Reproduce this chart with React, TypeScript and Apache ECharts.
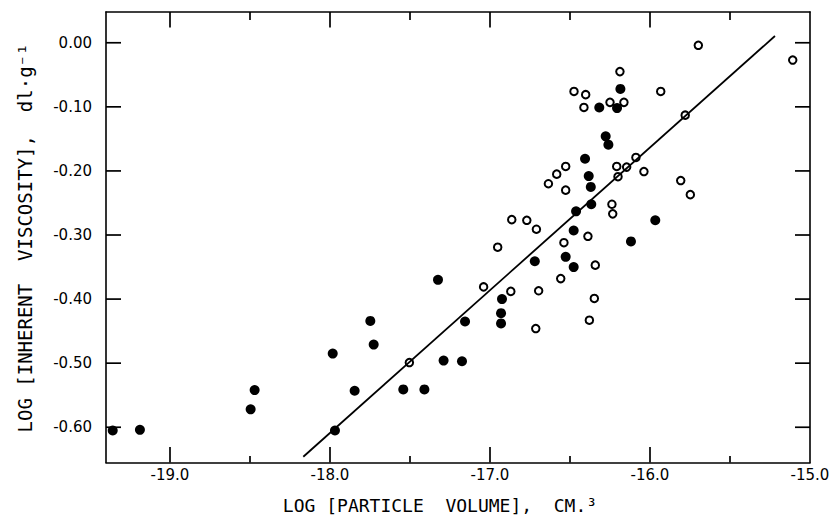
import React, { useEffect, useRef } from "react";
import * as echarts from "echarts";

// Filled circles
const filledX = [
  -19.358, -19.188, -18.496, -18.471, -17.983, -17.969, -17.846, -17.748, -17.727,
  -17.542, -17.41, -17.325, -17.29, -17.175, -17.156, -16.925, -16.931, -16.931,
  -16.72, -16.527, -16.477, -16.477, -16.462, -16.367, -16.119, -15.967, -16.185,
  -16.317, -16.206, -16.277, -16.26, -16.406, -16.383, -16.37,
];
const filledY = [
  -0.605, -0.604, -0.572, -0.542, -0.485, -0.605, -0.543, -0.434, -0.471,
  -0.541, -0.541, -0.37, -0.496, -0.497, -0.435, -0.4, -0.422, -0.438,
  -0.341, -0.334, -0.35, -0.293, -0.263, -0.252, -0.31, -0.277, -0.072,
  -0.101, -0.102, -0.146, -0.159, -0.181, -0.208, -0.225,
];

// Open circles
const openX = [
  -17.504, -17.04, -16.952, -16.87, -16.864, -16.77, -16.71, -16.696, -16.714,
  -16.558, -16.538, -16.388, -16.342, -16.348, -16.379, -16.238, -16.233, -15.698,
  -16.188, -16.475, -16.402, -15.933, -16.413, -16.25, -16.163, -15.78, -16.088,
  -16.527, -16.583, -16.635, -16.208, -16.146, -16.2, -16.038, -16.527, -15.808,
  -15.748, -15.108,
];
const openY = [
  -0.499, -0.381, -0.319, -0.388, -0.276, -0.277, -0.291, -0.387, -0.446,
  -0.368, -0.312, -0.302, -0.347, -0.399, -0.433, -0.252, -0.267, -0.004,
  -0.045, -0.076, -0.081, -0.076, -0.101, -0.093, -0.093, -0.113, -0.179,
  -0.193, -0.205, -0.22, -0.193, -0.194, -0.209, -0.201, -0.23, -0.215,
  -0.237, -0.027,
];

// Fitted straight line (end points)
const fitX = [-18.167, -15.219];
const fitY = [-0.646, 0.0105];

// Axis ticks
const xMajorTicks = [-19, -18, -17, -16];
const xMinorTicks = [-18.5, -17.5, -16.5, -15.5];
const yMajorTicks = [0, -0.1, -0.2, -0.3, -0.4, -0.5, -0.6];

const X_MIN = -19.4;
const X_MAX = -15.0;
const Y_MIN = -0.655;
const Y_MAX = 0.048;

const xTitle = "LOG [PARTICLE  VOLUME],  CM.³";
const yTitle = "LOG [INHERENT  VISCOSITY],  dl·g⁻¹";

const FONT = "'DejaVu Sans', 'Noto Sans', sans-serif";
const TITLE_FONT = "'DejaVu Sans Mono', 'Liberation Mono', monospace";

export default function App() {
  const ref = useRef<HTMLDivElement>(null);
  useEffect(() => {
    document.body.style.margin = "0";
    if (!ref.current) return;
    const chart = echarts.init(ref.current, null, { renderer: "svg" });
    const zip = (xs: number[], ys: number[]) => xs.map((x, i) => [x, ys[i]]);
    const black = "#000";
    const isMult = (v: number, step: number) =>
      Math.abs(v / step - Math.round(v / step)) < 1e-6;

    const xAxisBase = (position: "top" | "bottom", showLabel: boolean) => ({
      type: "value" as const,
      min: X_MIN,
      max: X_MAX,
      position,
      splitLine: { show: false },
      axisLine: { show: true, onZero: false, lineStyle: { color: black, width: 1.6 } },
      axisTick: { show: false },
      axisLabel: {
        show: showLabel,
        formatter: (v: number) => (isMult(v, 1) ? v.toFixed(1) : ""),
        color: black,
        fontFamily: FONT,
        fontSize: 15,
        margin: 5,
      },
    });
    const yAxisBase = (position: "left" | "right", showLabel: boolean) => ({
      type: "value" as const,
      min: Y_MIN,
      max: Y_MAX,
      position,
      splitLine: { show: false },
      axisLine: { show: true, onZero: false, lineStyle: { color: black, width: 1.6 } },
      axisTick: { show: false },
      axisLabel: {
        show: showLabel,
        formatter: (v: number) => (isMult(v, 0.1) ? v.toFixed(2) : ""),
        color: black,
        fontFamily: FONT,
        fontSize: 15,
        margin: 14,
      },
    });

    // Ticks drawn as thin rect symbols placed on the frame through the axes' scales
    const TW = 1.7;
    const xTickMarks = (values: number[], edge: number, len: number) => ({
      type: "scatter",
      data: values.map((v) => [v, edge]),
      symbol: "rect",
      symbolSize: [TW, len],
      symbolOffset: [0, edge === Y_MIN ? -len / 2 : len / 2],
      itemStyle: { color: black, opacity: 1 },
      clip: false,
      silent: true,
    });
    const yTickMarks = (values: number[], edge: number, len: number) => ({
      type: "scatter",
      data: values.map((v) => [edge, v]),
      symbol: "rect",
      symbolSize: [len, TW],
      symbolOffset: [edge === X_MIN ? len / 2 : -len / 2, 0],
      itemStyle: { color: black, opacity: 1 },
      clip: false,
      silent: true,
    });

    chart.setOption({
      animation: false,
      backgroundColor: "#fff",
      grid: { left: 106, right: 24, top: 12, bottom: 53.5, outerBoundsMode: "none" },
      xAxis: [xAxisBase("bottom", true), xAxisBase("top", false)],
      yAxis: [yAxisBase("left", true), yAxisBase("right", false)],
      series: [
        xTickMarks(xMajorTicks, Y_MIN, 15.5),
        xTickMarks(xMinorTicks, Y_MIN, 6.5),
        xTickMarks(xMajorTicks, Y_MAX, 15.5),
        xTickMarks(xMinorTicks, Y_MAX, 8),
        yTickMarks(yMajorTicks, X_MIN, 15),
        yTickMarks(yMajorTicks, X_MAX, 15),
        {
          type: "line",
          data: zip(fitX, fitY),
          showSymbol: false,
          symbol: "none",
          lineStyle: { color: black, width: 1.8 },
        },
        {
          type: "scatter",
          data: zip(openX, openY),
          symbol: "circle",
          symbolSize: 7.5,
          itemStyle: { color: "#fff", borderColor: black, borderWidth: 2, opacity: 1 },
        },
        {
          type: "scatter",
          data: zip(filledX, filledY),
          symbol: "circle",
          symbolSize: 10,
          itemStyle: { color: black, opacity: 1 },
        },
      ],
      graphic: [
        {
          type: "text",
          x: 440,
          y: 505,
          style: {
            text: xTitle,
            fill: black,
            font: `18px ${TITLE_FONT}`,
            textAlign: "center",
            textVerticalAlign: "middle",
          },
        },
        {
          type: "text",
          x: 25,
          y: 238,
          rotation: Math.PI / 2,
          style: {
            text: yTitle,
            fill: black,
            font: `19px ${TITLE_FONT}`,
            textAlign: "center",
            textVerticalAlign: "middle",
          },
        },
      ],
    });
    return () => chart.dispose();
  }, []);
  return <div ref={ref} style={{ width: 834, height: 516 }} />;
}
